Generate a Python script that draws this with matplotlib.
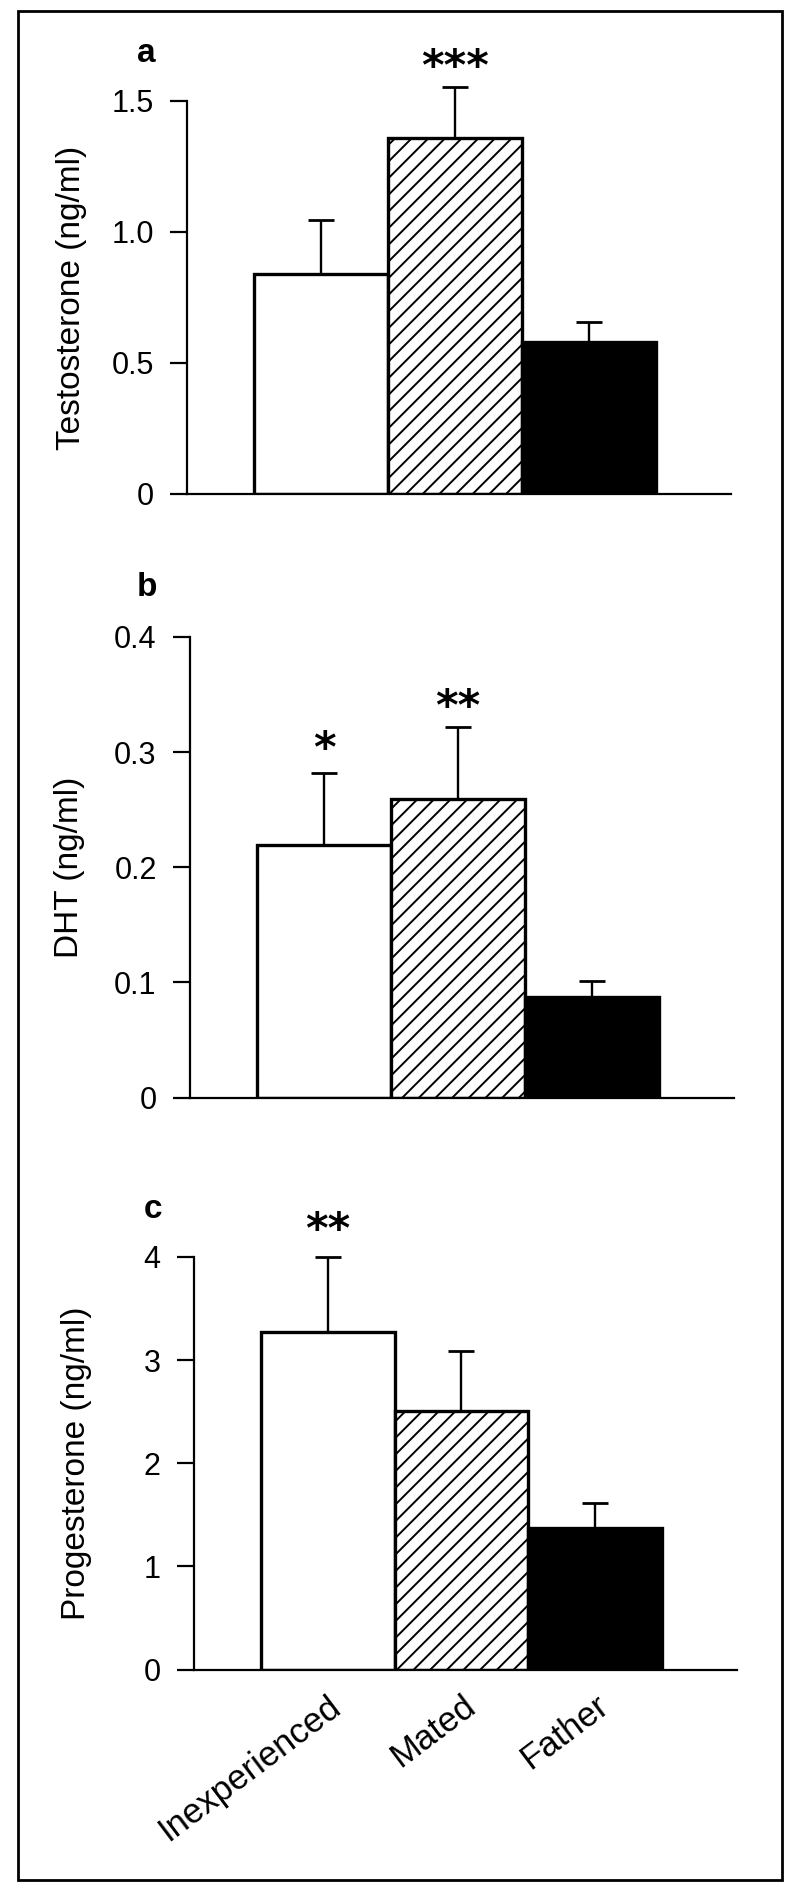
import matplotlib
matplotlib.use('Agg')
import matplotlib.pyplot as plt
from matplotlib.patches import Rectangle

# ---------------- data ----------------
groups = ['Inexperienced', 'Mated', 'Father']

testosterone_mean = [0.84, 1.36, 0.58]
testosterone_sem = [0.205, 0.193, 0.077]
dht_mean = [0.219, 0.259, 0.087]
dht_sem = [0.063, 0.063, 0.014]
progesterone_mean = [3.27, 2.51, 1.37]
progesterone_sem = [0.73, 0.58, 0.24]

testosterone_ticks = [0, 0.5, 1.0, 1.5]
testosterone_ticklabels = ['0', '0.5', '1.0', '1.5']
dht_ticks = [0, 0.1, 0.2, 0.3, 0.4]
dht_ticklabels = ['0', '0.1', '0.2', '0.3', '0.4']
progesterone_ticks = [0, 1, 2, 3, 4]
progesterone_ticklabels = ['0', '1', '2', '3', '4']

panel_letters = ['a', 'b', 'c']
y_labels = ['Testosterone (ng/ml)', 'DHT (ng/ml)', 'Progesterone (ng/ml)']
significance = [{1: '***'}, {0: '*', 1: '**'}, {0: '**'}]

# ---------------- style ----------------
plt.rcParams['font.family'] = ['Liberation Sans', 'DejaVu Sans']
plt.rcParams['hatch.linewidth'] = 1.4
plt.rcParams['hatch.color'] = 'black'

W, H = 800, 1891
fig = plt.figure(figsize=(W / 100, H / 100), dpi=100)

# pixel layout: (left, right, y of zero, y of top tick)
layouts = [(187, 731, 494, 101), (190, 734, 1097.5, 637), (194, 737, 1669.5, 1257)]
ylabel_right = [87, 85, 92]
letter_pos = [(146, 54), (147, 587), (153, 1209)]
star_offsets = [{1: 5}, {0: 8, 1: 5}, {0: 10}]

means = [testosterone_mean, dht_mean, progesterone_mean]
sems = [testosterone_sem, dht_sem, progesterone_sem]
ticks = [testosterone_ticks, dht_ticks, progesterone_ticks]
ticklabels = [testosterone_ticklabels, dht_ticklabels, progesterone_ticklabels]

facecolors = ['white', 'white', 'black']
hatches = [None, '//', None]
x = list(range(len(groups)))

for p in range(3):
    l, r, y0, yt = layouts[p]
    ax = fig.add_axes([l / W, 1 - y0 / H, (r - l) / W, (y0 - yt) / H])
    bars = ax.bar(x, means[p], width=1.0, color=facecolors, edgecolor='black',
                  linewidth=2.4, zorder=2)
    for b, h in zip(bars, hatches):
        if h:
            b.set_hatch(h)
    eb = ax.errorbar(x, means[p], yerr=[[0] * 3, sems[p]], fmt='none', ecolor='black',
                     elinewidth=1.7, capsize=9.5, capthick=2.0, zorder=3)
    for c in eb.get_children():
        c.set_clip_on(False)

    ax.set_xlim(-1.0, 3.06)
    ax.set_ylim(0, ticks[p][-1])
    ax.set_yticks(ticks[p])
    ax.set_yticklabels(ticklabels[p])
    ax.spines['top'].set_visible(False)
    ax.spines['right'].set_visible(False)
    ax.spines['left'].set_linewidth(1.6)
    ax.spines['bottom'].set_linewidth(1.6)
    ax.tick_params(axis='y', direction='out', length=12, width=1.6, pad=12, labelsize=22)
    ax.tick_params(axis='x', length=0)
    if p == 2:
        ax.set_xticks(x)
        ax.set_xticklabels(groups, rotation=37, ha='right', va='top',
                           rotation_mode='anchor', fontsize=25)
        ax.tick_params(axis='x', pad=14)
    else:
        ax.set_xticks([])

    ax.set_ylabel(y_labels[p], fontsize=24)
    ax.yaxis.set_label_coords((ylabel_right[p] - l) / (r - l), 0.5)

    for i, s in significance[p].items():
        ax.annotate(s, xy=(i, means[p][i] + sems[p][i]), xytext=(0, star_offsets[p][i]),
                    textcoords='offset points', ha='center', va='baseline',
                    fontsize=31, fontweight='bold', family='DejaVu Sans',
                    annotation_clip=False)

    lx, ly = letter_pos[p]
    fig.text(lx / W, 1 - ly / H, panel_letters[p], ha='center', va='center',
             fontsize=24, fontweight='bold')

# outer frame
fig.patches.append(Rectangle((18 / W, 1 - 1880 / H), (782 - 18) / W, (1880 - 11) / H,
                             transform=fig.transFigure, fill=False, edgecolor='black',
                             linewidth=2))

fig.savefig('out.png', dpi=100)
